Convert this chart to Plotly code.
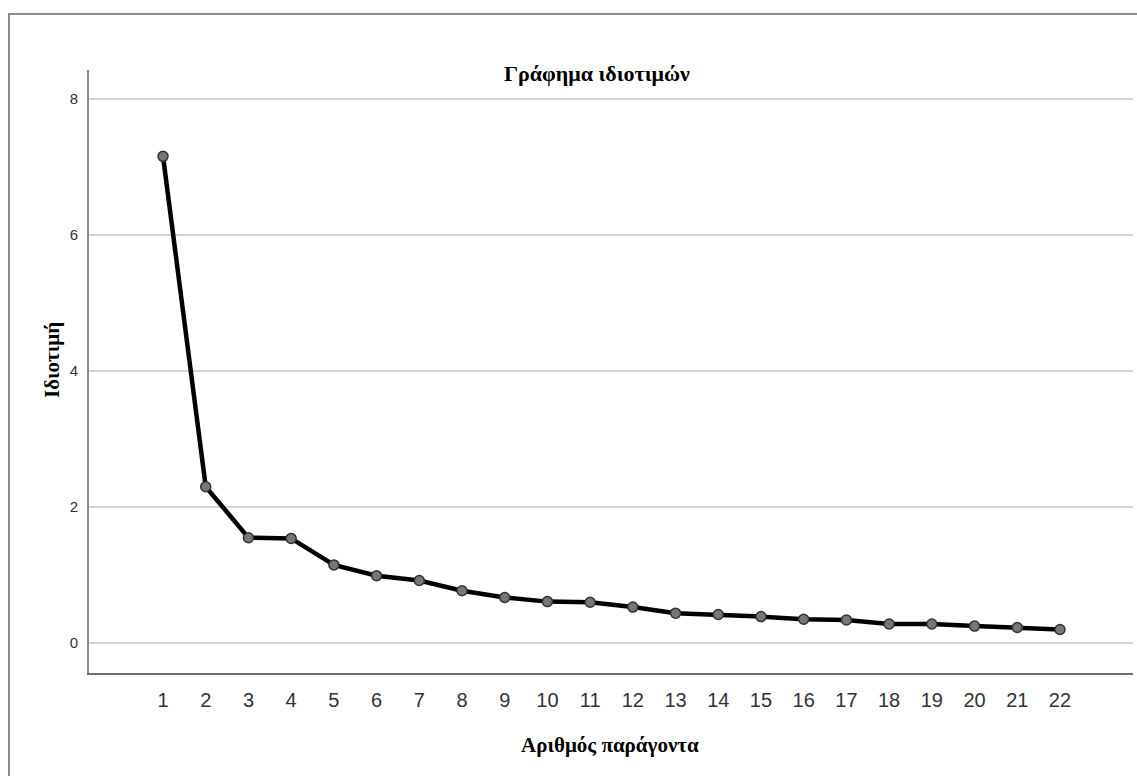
import plotly.graph_objects as go

factors = list(range(1, 23))
eigenvalues = [7.16, 2.30, 1.55, 1.54, 1.15, 0.99, 0.92, 0.77, 0.67, 0.61, 0.60,
               0.53, 0.44, 0.42, 0.39, 0.35, 0.34, 0.28, 0.28, 0.25, 0.23, 0.20]
y_ticks = [0, 2, 4, 6, 8]
title_text = "Γράφημα ιδιοτιμών"
x_title = "Αριθμός παράγοντα"
y_title = "Ιδιοτιμή"

W, H = 1137, 776
L, R, T, B = 89, 4, 70, 103

fig = go.Figure()
fig.add_trace(go.Scatter(
    x=factors, y=eigenvalues, mode="lines+markers",
    line=dict(color="#000000", width=4.5),
    marker=dict(size=10, color="#777777", line=dict(color="#333333", width=1.5)),
    showlegend=False, hoverinfo="x+y"))

fig.update_layout(
    width=W, height=H,
    margin=dict(l=L, r=R, t=T, b=B),
    paper_bgcolor="white", plot_bgcolor="white",
    xaxis=dict(range=[-0.733, 23.71], tickmode="array", tickvals=factors,
               ticktext=[str(v) for v in factors],
               showgrid=False, zeroline=False, showline=True,
               linecolor="#6e6e6e", linewidth=2, ticks="",
               ticklabelstandoff=8,
               tickfont=dict(family="Liberation Sans, Arial", size=20, color="#333333")),
    yaxis=dict(range=[-0.44, 8.43], tickmode="array", tickvals=y_ticks,
               showgrid=True, gridcolor="#d4d4d4", gridwidth=2,
               zeroline=False, showline=True, linecolor="#8a8a8a", linewidth=2,
               ticks="", ticklabelstandoff=6,
               tickfont=dict(family="Liberation Sans, Arial", size=15, color="#333333")),
    annotations=[
        dict(text="<b>%s</b>" % title_text, xref="paper", yref="paper",
             x=(597 - L) / 1044, y=(673 - 74) / 603, xanchor="center", yanchor="middle",
             showarrow=False, font=dict(family="Liberation Serif, Times New Roman", size=22, color="#000")),
        dict(text="<b>%s</b>" % x_title, xref="paper", yref="paper",
             x=(610 - L) / 1044, y=(673 - 745) / 603, xanchor="center", yanchor="middle",
             showarrow=False, font=dict(family="Liberation Serif, Times New Roman", size=21, color="#000")),
        dict(text="<b>%s</b>" % y_title, xref="paper", yref="paper", textangle=-90,
             x=(52 - L) / 1044, y=(673 - 360) / 603, xanchor="center", yanchor="middle",
             showarrow=False, font=dict(family="Liberation Serif, Times New Roman", size=21, color="#000")),
    ],
    shapes=[dict(type="rect", xref="paper", yref="paper",
                 x0=(9 - L) / 1044, y0=-0.5, x1=1.2, y1=(673 - 14) / 603,
                 line=dict(color="#8c8c8c", width=2), fillcolor="rgba(0,0,0,0)", layer="below")],
)

fig.write_html("out.html")
